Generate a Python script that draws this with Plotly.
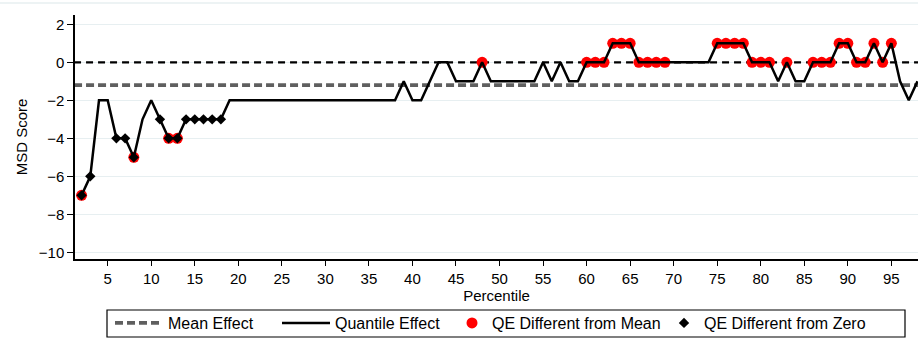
import plotly.graph_objects as go

# ---- data ----
percentile = list(range(2, 99))
quantile_effect = [
    -7, -6, -2, -2, -4, -4, -5, -3, -2, -3,          # 2-11
    -4, -4, -3, -3, -3, -3, -3, -2, -2, -2,          # 12-21
    -2, -2, -2, -2, -2, -2, -2, -2, -2, -2,          # 22-31
    -2, -2, -2, -2, -2, -2, -2, -1, -2, -2,          # 32-41
    -1, 0, 0, -1, -1, -1, 0, -1, -1, -1,             # 42-51
    -1, -1, -1, 0, -1, 0, -1, -1, 0, 0,              # 52-61
    0, 1, 1, 1, 0, 0, 0, 0, 0, 0,                    # 62-71
    0, 0, 0, 1, 1, 1, 1, 0, 0, 0,                    # 72-81
    -1, 0, -1, -1, 0, 0, 0, 1, 1, 0,                 # 82-91
    0, 1, 0, 1, -1, -2, -1,                          # 92-98
]
mean_effect = -1.2
diff_from_mean_pct = [2, 8, 12, 13, 48] + list(range(60, 70)) + list(range(75, 82)) + [83] + list(range(86, 96))
diff_from_zero_pct = [2, 3, 6, 7, 8, 11, 12, 13, 14, 15, 16, 17, 18]
x_ticks = list(range(5, 100, 5))
y_ticks = [2, 0, -2, -4, -6, -8, -10]

qe = dict(zip(percentile, quantile_effect))
FONT = "Liberation Sans, Arial, sans-serif"

# layout geometry (pixels)
W, H = 918, 341
ML, MR, MT, MB = 75, 0, 15, 82
PW, PH = W - ML - MR, H - MT - MB


def px_x(p):
    return (p - ML) / PW


def px_y(p):
    return (H - MB - p) / PH


fig = go.Figure()

# zero reference line
fig.add_trace(go.Scatter(
    x=[percentile[0] - 5, percentile[-1] + 5], y=[0, 0], mode="lines",
    line=dict(color="black", width=2.3, dash="7px,5px"),
    showlegend=False, hoverinfo="skip"))

# mean effect
fig.add_trace(go.Scatter(
    x=[percentile[0] - 5, percentile[-1] + 5], y=[mean_effect, mean_effect], mode="lines",
    name="Mean Effect", legend="legend",
    line=dict(color="#5f5f5f", width=3.8, dash="8px,4px")))

# QE different from mean (red circles, beneath line)
fig.add_trace(go.Scatter(
    x=diff_from_mean_pct, y=[qe[p] for p in diff_from_mean_pct], mode="markers",
    name="QE Different from Mean", legend="legend3",
    marker=dict(symbol="circle", size=11, color="#ff0000"), cliponaxis=False))

# quantile effect line
fig.add_trace(go.Scatter(
    x=percentile, y=quantile_effect, mode="lines",
    name="Quantile Effect", legend="legend2",
    line=dict(color="black", width=2.5)))

# QE different from zero (black diamonds)
fig.add_trace(go.Scatter(
    x=diff_from_zero_pct, y=[qe[p] for p in diff_from_zero_pct], mode="markers",
    name="QE Different from Zero", legend="legend4",
    marker=dict(symbol="diamond", size=8, color="black"), cliponaxis=False))

leg_y = px_y(323)


def leg(xpx, iw):
    return dict(orientation="h", yanchor="middle", xanchor="left",
                x=px_x(xpx), y=leg_y,
                bgcolor="rgba(0,0,0,0)", borderwidth=0,
                font=dict(size=16, family=FONT), itemwidth=iw)


fig.update_layout(
    width=W, height=H,
    margin=dict(l=ML, r=MR, t=MT, b=MB),
    paper_bgcolor="white", plot_bgcolor="white",
    font=dict(family=FONT, size=15, color="black"),
    xaxis=dict(
        range=[1.244, 98.06], tickmode="array", tickvals=x_ticks,
        ticks="outside", ticklen=5, tickcolor="black", tickwidth=1,
        showline=True, linecolor="black", linewidth=1.5,
        showgrid=False, zeroline=False, automargin=False,
        title=dict(text="Percentile", standoff=0, font=dict(size=15)),
        tickfont=dict(size=15)),
    yaxis=dict(
        range=[-10.35, 2.49], tickmode="array", tickvals=y_ticks,
        ticks="outside", ticklen=6, tickcolor="black", tickwidth=1,
        showline=True, linecolor="black", linewidth=1.5,
        showgrid=True, gridcolor="#e7eff1", gridwidth=1, zeroline=False,
        automargin=False,
        title=dict(text="MSD Score", standoff=8, font=dict(size=15)),
        tickfont=dict(size=15)),
    legend=leg(110, 48),
    legend2=leg(277, 48),
    legend3=leg(452, 30),
    legend4=leg(664, 30),
    shapes=[
        dict(type="line", xref="paper", yref="paper", x0=-0.09, x1=1.0,
             y0=px_y(3), y1=px_y(3), line=dict(color="#e7eff1", width=1.5)),
        dict(type="rect", xref="paper", yref="paper",
             x0=px_x(107), x1=px_x(905), y0=px_y(337), y1=px_y(310),
             line=dict(color="black", width=1.2)),
    ],
)

fig.write_html("out.html", config={"displayModeBar": False},
               post_script="document.body.style.margin='0px';")
